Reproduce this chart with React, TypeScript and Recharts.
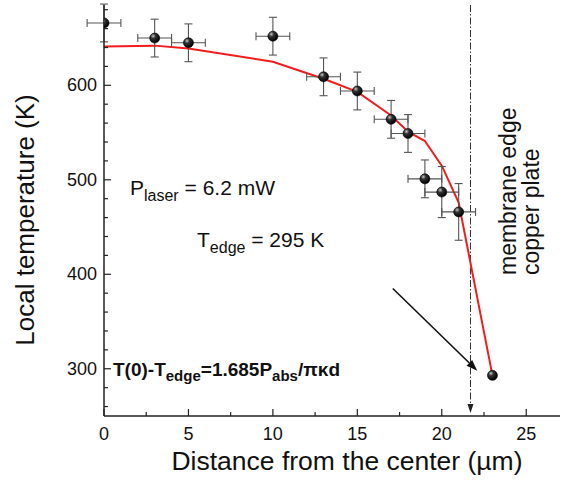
import React from "react";
import {
  ComposedChart,
  XAxis,
  YAxis,
  Line,
  Scatter,
  ErrorBar,
  ReferenceLine,
} from "recharts";

// measured points
const distance = [0, 3, 5, 10, 13, 15, 17, 18, 19, 20, 21];
const temperature = [666, 650, 645, 652, 609, 594, 564, 549, 501, 487, 466];
const tempError = [20, 20, 20, 20, 20, 20, 20, 20, 20, 27, 30];
const distError = [1, 1, 1, 1, 1, 1, 1, 1, 1, 1, 1];

// copper plate point (no error bars)
const edgeDistance = [23];
const edgeTemperature = [293];

// model curve
const fitDistance = [0, 3, 5, 10, 13, 15, 17, 18, 19, 20, 21, 23];
const fitTemperature = [641, 642, 639, 625, 607, 593, 568, 551, 541, 515, 476, 293];

const xTicks = [0, 2.5, 5, 7.5, 10, 12.5, 15, 17.5, 20, 22.5, 25];
const yTicks = [260, 280, 300, 320, 340, 360, 380, 400, 420, 440, 460, 480, 500, 520, 540, 560, 580, 600, 620, 640, 660, 680];

const membraneEdge = 21.7;
const arrowStart = { x: 17.1, y: 385 };
const arrowEnd = { x: 22.1, y: 298 };

const points = distance.map((x, i) => ({ x, t: temperature[i], dt: tempError[i], dx: distError[i] }));
const edgePoints = edgeDistance.map((x, i) => ({ x, t: edgeTemperature[i] }));
const fitData = fitDistance.map((x, i) => ({ x, t: fitTemperature[i] }));

const FONT = "'Liberation Sans', Arial, Helvetica, sans-serif";
const AXIS = "#222";

function LeftTick({ x, y, payload }: any) {
  const major = payload.value % 100 === 0;
  return (
    <g>
      <line x1={x} x2={x + (major ? 7 : 4)} y1={y} y2={y} stroke={AXIS} strokeWidth={1.2} />
      {major && (
        <text x={x - 7} y={y + 6} textAnchor="end" fontSize={18} fill="#111" fontFamily={FONT}>
          {payload.value}
        </text>
      )}
    </g>
  );
}

function BottomTick({ x, y, payload }: any) {
  const major = payload.value % 5 === 0;
  return (
    <g>
      <line x1={x} x2={x} y1={y} y2={y - (major ? 7 : 4)} stroke={AXIS} strokeWidth={1.2} />
      {major && (
        <text x={x} y={y + 24} textAnchor="middle" fontSize={18} fill="#111" fontFamily={FONT}>
          {payload.value}
        </text>
      )}
    </g>
  );
}

function TopTick({ x, y, payload }: any) {
  const major = payload.value % 5 === 0;
  return <line x1={x} x2={x} y1={y} y2={y + (major ? 7 : 4)} stroke={AXIS} strokeWidth={1.2} />;
}

function Sphere({ cx, cy }: any) {
  return <circle cx={cx} cy={cy} r={5} fill="url(#sphere)" stroke="#000" strokeWidth={0.6} />;
}

function EdgeLine({ x1, y1, y2 }: any) {
  const top = Math.min(y1, y2);
  const bottom = Math.max(y1, y2) - 3;
  return (
    <g>
      <line x1={x1} x2={x1} y1={top} y2={bottom - 6} stroke="#333" strokeWidth={1} strokeDasharray="7 2 1.5 2" />
      <polygon points={`${x1 - 3},${bottom - 9} ${x1 + 3},${bottom - 9} ${x1},${bottom}`} fill="#222" />
    </g>
  );
}

function Arrow({ x1, y1, x2, y2 }: any) {
  const a = Math.atan2(y2 - y1, x2 - x1);
  const len = 11;
  const w = 4;
  const bx = x2 - len * Math.cos(a);
  const by = y2 - len * Math.sin(a);
  const px = -Math.sin(a) * w;
  const py = Math.cos(a) * w;
  return (
    <g>
      <line x1={x1} y1={y1} x2={bx} y2={by} stroke="#111" strokeWidth={1.6} />
      <polygon points={`${x2},${y2} ${bx + px},${by + py} ${bx - px},${by - py}`} fill="#111" />
    </g>
  );
}

export default function App() {
  return (
    <div style={{ position: "absolute", left: 0, top: 0, width: 561, height: 481, background: "#fff" }}>
      <svg width={0} height={0} style={{ position: "absolute" }}>
        <defs>
          <radialGradient id="sphere" cx="35%" cy="30%" r="70%">
            <stop offset="0%" stopColor="#c8c8c8" />
            <stop offset="35%" stopColor="#333" />
            <stop offset="100%" stopColor="#000" />
          </radialGradient>
        </defs>
      </svg>
      <ComposedChart width={561} height={481} margin={{ top: 5, right: 1, bottom: 0, left: 0 }}>
        <XAxis
          dataKey="x"
          type="number"
          domain={[0, 27]}
          ticks={xTicks}
          allowDataOverflow
          height={65}
          tickSize={0}
          tickMargin={0}
          tickLine={false}
          axisLine={{ stroke: AXIS, strokeWidth: 1.5 }}
          tick={<BottomTick />}
          interval={0}
        />
        <XAxis
          xAxisId="top"
          orientation="top"
          dataKey="x"
          type="number"
          domain={[0, 27]}
          ticks={xTicks}
          allowDataOverflow
          height={0}
          tickSize={0}
          tickMargin={0}
          tickLine={false}
          axisLine={{ stroke: AXIS, strokeWidth: 1.5 }}
          tick={<TopTick />}
          interval={0}
        />
        <YAxis
          type="number"
          domain={[250, 685]}
          ticks={yTicks}
          allowDataOverflow
          width={104}
          tickSize={0}
          tickMargin={0}
          tickLine={false}
          axisLine={{ stroke: AXIS, strokeWidth: 1.5 }}
          tick={<LeftTick />}
          interval={0}
        />
        <ReferenceLine x={membraneEdge} shape={<EdgeLine />} />
        <ReferenceLine segment={[arrowStart, arrowEnd]} shape={<Arrow />} />
        <Line
          data={fitData}
          dataKey="t"
          type="linear"
          stroke="#f21c1c"
          strokeWidth={2}
          dot={false}
          isAnimationActive={false}
        />
        <Scatter data={points} dataKey="t" shape={<Sphere />} isAnimationActive={false}>
          <ErrorBar dataKey="dt" direction="y" width={4} stroke="#555" strokeWidth={1.1} isAnimationActive={false} />
          <ErrorBar dataKey="dx" direction="x" width={4} stroke="#555" strokeWidth={1.1} isAnimationActive={false} />
        </Scatter>
        <Scatter data={edgePoints} dataKey="t" shape={<Sphere />} isAnimationActive={false} />
      </ComposedChart>
      <svg
        width={561}
        height={481}
        style={{ position: "absolute", left: 0, top: 0, pointerEvents: "none" }}
        fontFamily={FONT}
        fill="#111"
      >
        <text x={130} y={195} fontSize={21}>
          P<tspan fontSize={16} dy={6}>laser</tspan>
          <tspan fontSize={21} dy={-6}> = 6.2 mW</tspan>
        </text>
        <text x={197} y={247} fontSize={21}>
          T<tspan fontSize={16} dy={6}>edge</tspan>
          <tspan fontSize={21} dy={-6}> = 295 K</tspan>
        </text>
        <text x={113} y={376} fontSize={19} fontWeight="bold">
          T(0)-T<tspan fontSize={15} dy={5}>edge</tspan>
          <tspan fontSize={19} dy={-5}>=1.685P</tspan>
          <tspan fontSize={15} dy={5}>abs</tspan>
          <tspan fontSize={19} dy={-5}>/πκd</tspan>
        </text>
        <text transform="translate(516,275) rotate(-90)" fontSize={23}>
          membrane edge
        </text>
        <text transform="translate(539,275) rotate(-90)" fontSize={23}>
          copper plate
        </text>
        <text x={347} y={470} fontSize={26.5} textAnchor="middle">
          Distance from the center (µm)
        </text>
        <text transform="translate(34,220) rotate(-90)" fontSize={26} textAnchor="middle">
          Local temperature (K)
        </text>
      </svg>
    </div>
  );
}
